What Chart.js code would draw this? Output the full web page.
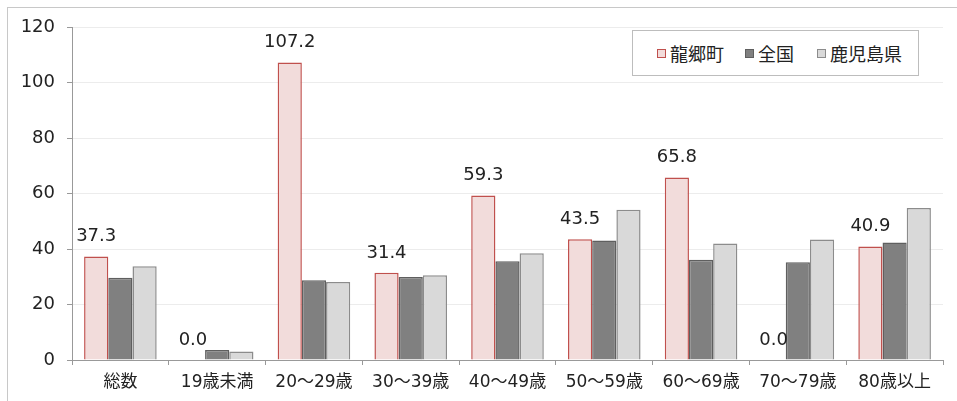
<!DOCTYPE html>
<html>
<head>
<meta charset="utf-8">
<script src="https://cdn.jsdelivr.net/npm/chart.js@4/dist/chart.umd.min.js"></script>
<style>
  html, body { margin: 0; padding: 0; background: #fff; }
  #wrap { position: relative; width: 957px; height: 401px; overflow: hidden; }
  #frame { position: absolute; left: 7px; top: 7px; width: 980px; height: 420px; border: 1px solid #c8c8c8; }
  #legend { position: absolute; left: 632px; top: 30px; width: 285px; height: 44px; border: 1px solid #bdbdbd; background: #fff;
    display: flex; align-items: center; font-family: "Noto Sans CJK JP", sans-serif; font-size: 18px; color: #222; }
  #legend span.item { display: flex; align-items: center; position: absolute; }
  #legend i { display: inline-block; width: 7px; height: 7px; margin-right: 4px; border: 1px solid; }
</style>
</head>
<body>
<div id="wrap">
  <div id="frame"></div>
  <canvas id="c" width="957" height="401"></canvas>
  <div id="legend"></div>
</div>
<script>
  const categories = ['総数', '19歳未満', '20～29歳', '30～39歳', '40～49歳', '50～59歳', '60～69歳', '70～79歳', '80歳以上'];
  const seriesNames = ['龍郷町', '全国', '鹿児島県'];
  const tatsugo = [37.3, 0.0, 107.2, 31.4, 59.3, 43.5, 65.8, 0.0, 40.9];
  const zenkoku = [29.6, 3.6, 28.7, 29.9, 35.6, 43.1, 36.1, 35.2, 42.3];
  const kagoshima = [33.8, 3.1, 28.1, 30.5, 38.5, 54.1, 42.0, 43.4, 54.8];
  const yTicks = [0, 20, 40, 60, 80, 100, 120];

  const fills = ['#f2dcdb', '#808080', '#d9d9d9'];
  const borders = ['#c0504d', '#5f5f5f', '#8c8c8c'];
  const fontFam = '"DejaVu Sans", "Noto Sans CJK JP", sans-serif';

  // legend as html
  const legendEl = document.getElementById('legend');
  const legendX = [24, 112, 184];
  seriesNames.forEach((name, i) => {
    const s = document.createElement('span');
    s.className = 'item';
    s.style.left = legendX[i] + 'px';
    s.innerHTML = '<i style="background:' + fills[i] + ';border-color:' + borders[i] + '"></i>' + name;
    legendEl.appendChild(s);
  });

  const valueLabels = {
    id: 'valueLabels',
    afterDatasetsDraw(chart) {
      const ctx = chart.ctx;
      const meta = chart.getDatasetMeta(0);
      ctx.save();
      ctx.font = '18px ' + fontFam;
      ctx.fillStyle = '#222';
      ctx.textAlign = 'center';
      ctx.textBaseline = 'middle';
      meta.data.forEach((bar, i) => {
        ctx.fillText(tatsugo[i].toFixed(1), bar.x, bar.y - 20);
      });
      ctx.restore();
    }
  };

  const chart = new Chart(document.getElementById('c'), {
    type: 'bar',
    data: {
      labels: categories,
      datasets: [
        { label: seriesNames[0], data: tatsugo, backgroundColor: fills[0], borderColor: borders[0], borderWidth: 1.5 },
        { label: seriesNames[1], data: zenkoku, backgroundColor: fills[1], borderColor: borders[1], borderWidth: 1.5 },
        { label: seriesNames[2], data: kagoshima, backgroundColor: fills[2], borderColor: borders[2], borderWidth: 1.5 }
      ]
    },
    options: {
      responsive: false,
      animation: false,
      categoryPercentage: 0.75,
      barPercentage: 1.0,
      layout: { padding: { top: 27, right: 14, left: 0, bottom: 0 } },
      plugins: { legend: { display: false }, tooltip: { enabled: false } },
      scales: {
        x: {
          grid: { drawOnChartArea: false, drawTicks: true, tickLength: 5, color: '#999' },
          border: { color: '#999' },
          ticks: { color: '#222', font: { family: fontFam, size: 17 }, padding: 7, maxRotation: 0, autoSkip: false },
          afterFit(scale) { scale.height = 41; }
        },
        y: {
          min: 0, max: 120,
          afterBuildTicks(scale) { scale.ticks = yTicks.map(v => ({ value: v })); },
          grid: { color: '#ececec', tickLength: 5, tickColor: '#999' },
          border: { color: '#999' },
          ticks: { color: '#222', font: { family: fontFam, size: 18 }, padding: 12 },
          afterFit(scale) { scale.width = 72; }
        }
      }
    },
    plugins: [valueLabels]
  });
</script>
</body>
</html>
